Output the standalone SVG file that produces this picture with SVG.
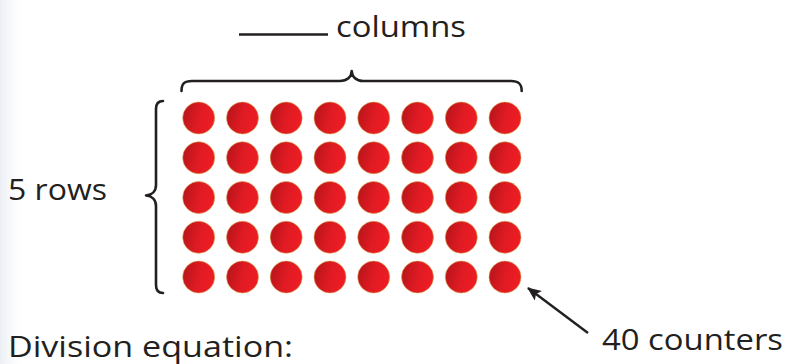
<svg xmlns="http://www.w3.org/2000/svg" width="787" height="364" viewBox="0 0 787 364">
  <defs>
    <linearGradient id="counterFill" x1="0" y1="0" x2="1" y2="0.25">
      <stop offset="0" stop-color="#b3131a"/>
      <stop offset="0.6" stop-color="#e01b23"/>
      <stop offset="1" stop-color="#ed1c24"/>
    </linearGradient>
    <linearGradient id="edgeHaze" x1="0" y1="0" x2="1" y2="0">
      <stop offset="0" stop-color="#eaeef3"/>
      <stop offset="1" stop-color="#ffffff" stop-opacity="0"/>
    </linearGradient>
    <circle id="counter" r="16" fill="url(#counterFill)" stroke="#d8a84a" stroke-width="0.8" stroke-opacity="0.7"/>
    <marker id="arrowHead" viewBox="0 0 14 12" refX="13" refY="6" markerWidth="14" markerHeight="12" markerUnits="userSpaceOnUse" orient="auto">
      <path d="M0,0 L14,6 L0,12 L3,6 Z" fill="#231f20"/>
    </marker>
    <style>
      .label { font-family: "Open Sans", "Liberation Sans", sans-serif; font-size: 30px; fill: #231f20; }
      .brace { fill: none; stroke: #231f20; stroke-width: 2.6; stroke-linecap: round; stroke-linejoin: round; }
      .line { stroke: #231f20; stroke-width: 2.4; fill: none; }
    </style>
  </defs>

  <rect x="0" y="0" width="787" height="364" fill="#ffffff"/>
  <rect x="0" y="0" width="26" height="364" fill="url(#edgeHaze)"/>

  <!-- column label with blank -->
  <g id="columns-label">
    <line class="line" x1="239" y1="34.5" x2="328" y2="34.5" stroke-width="2"/>
    <text class="label" x="336" y="37" textLength="130" lengthAdjust="spacingAndGlyphs">columns</text>
  </g>

  <!-- brace over the columns -->
  <g id="columns-brace">
    <path class="brace" d="M181.5,91 C181.5,84 184,81 192,81 L340,81 C347,81 351.5,77 351.7,71 C352,77 356.5,81 363,81 L511,81 C519,81 521.7,84 521.7,91"/>
  </g>

  <!-- brace beside the rows -->
  <g id="rows-brace">
    <path class="brace" d="M163,101 C158,101 156,103.5 156,109 L156,185 C156,191 152,195 146,195.5 C152,196 156,200 156,206 L156,285 C156,290.5 158,293 163,293"/>
  </g>

  <g id="rows-label">
    <text class="label" x="8" y="200" textLength="99" lengthAdjust="spacingAndGlyphs">5 rows</text>
  </g>

  <!-- 5 x 8 array of counters -->
  <g id="counter-array">
    <g transform="translate(0,118)">
      <use href="#counter" x="198.7"/><use href="#counter" x="242.5"/><use href="#counter" x="286.2"/><use href="#counter" x="330"/>
      <use href="#counter" x="373.7"/><use href="#counter" x="417.5"/><use href="#counter" x="461.3"/><use href="#counter" x="505"/>
    </g>
    <g transform="translate(0,157.75)">
      <use href="#counter" x="198.7"/><use href="#counter" x="242.5"/><use href="#counter" x="286.2"/><use href="#counter" x="330"/>
      <use href="#counter" x="373.7"/><use href="#counter" x="417.5"/><use href="#counter" x="461.3"/><use href="#counter" x="505"/>
    </g>
    <g transform="translate(0,197.5)">
      <use href="#counter" x="198.7"/><use href="#counter" x="242.5"/><use href="#counter" x="286.2"/><use href="#counter" x="330"/>
      <use href="#counter" x="373.7"/><use href="#counter" x="417.5"/><use href="#counter" x="461.3"/><use href="#counter" x="505"/>
    </g>
    <g transform="translate(0,237.25)">
      <use href="#counter" x="198.7"/><use href="#counter" x="242.5"/><use href="#counter" x="286.2"/><use href="#counter" x="330"/>
      <use href="#counter" x="373.7"/><use href="#counter" x="417.5"/><use href="#counter" x="461.3"/><use href="#counter" x="505"/>
    </g>
    <g transform="translate(0,277)">
      <use href="#counter" x="198.7"/><use href="#counter" x="242.5"/><use href="#counter" x="286.2"/><use href="#counter" x="330"/>
      <use href="#counter" x="373.7"/><use href="#counter" x="417.5"/><use href="#counter" x="461.3"/><use href="#counter" x="505"/>
    </g>
  </g>

  <!-- pointer to the array -->
  <g id="connectors">
    <line class="line" x1="588" y1="333" x2="528" y2="288" marker-end="url(#arrowHead)"/>
  </g>

  <g id="total-label">
    <text class="label" x="602" y="350" textLength="181" lengthAdjust="spacingAndGlyphs">40 counters</text>
  </g>

  <g id="equation-label">
    <text class="label" x="8" y="356.5" textLength="285" lengthAdjust="spacingAndGlyphs">Division equation:</text>
  </g>
</svg>
